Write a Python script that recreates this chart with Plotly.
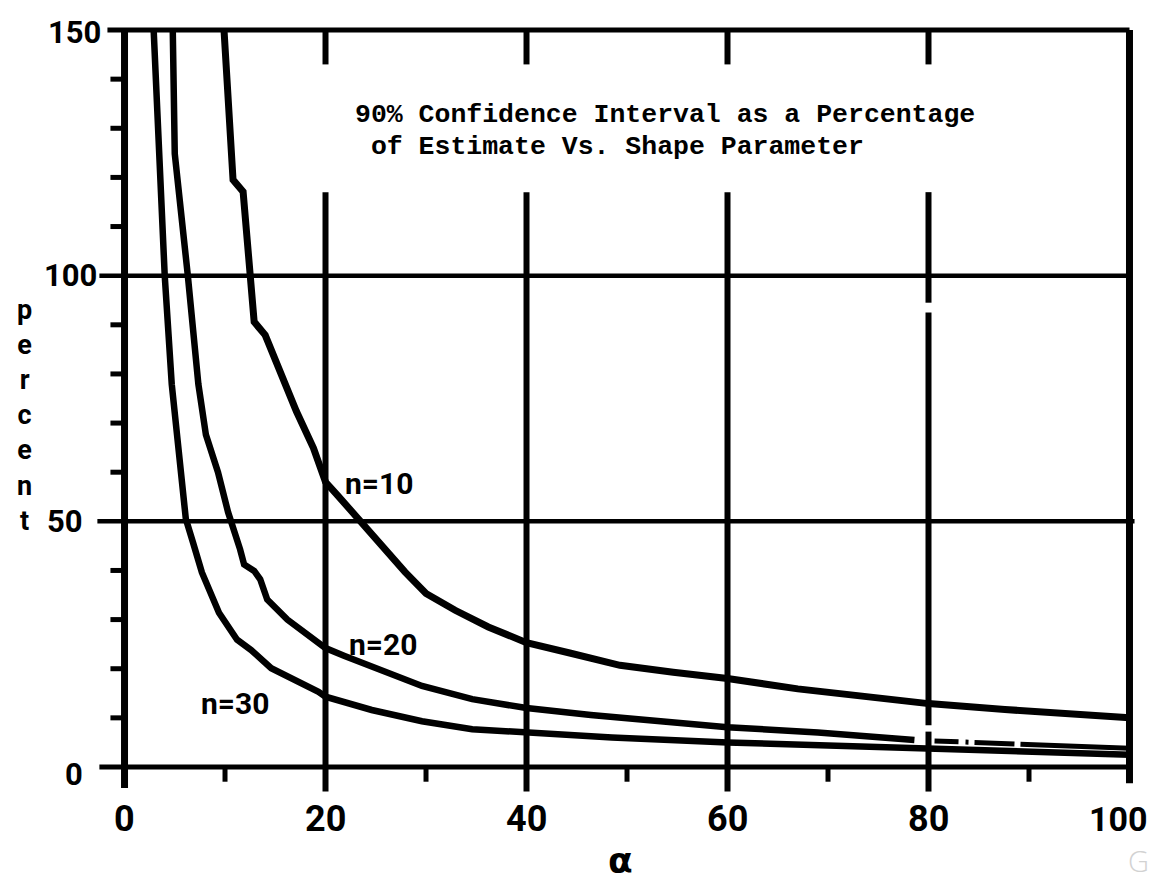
import plotly.graph_objects as go

# 90% confidence interval width (percent of estimate) against shape parameter alpha
alpha_n10 = [9.9, 10.8, 11.8, 12.6, 12.9, 14.0, 16.0, 17.1, 18.8, 20.0, 21.2, 23.2, 25.5,
             27.9, 30.0, 32.9, 36.2, 40.0, 44.3, 49.3, 54.6, 60.0, 67.0, 75.3, 80.0, 87.6, 100.0]
pct_n10 = [150, 119.5, 117.1, 100, 90.6, 87.9, 77.9, 72.4, 64.9, 58.0, 55.3, 50.5, 45.2,
           39.7, 35.3, 31.9, 28.5, 25.3, 23.2, 20.7, 19.3, 18.0, 15.9, 13.9, 12.9, 11.7, 10.0]

alpha_n20 = [4.8, 5.0, 6.3, 7.35, 8.1, 9.3, 10.3, 10.6, 11.5, 11.9, 12.9, 13.5, 14.2, 16.2,
             19.2, 20.0, 21.9, 25.6, 29.6, 34.6, 40.0, 46.4, 52.6, 60.0, 69.0, 78.6,
             80.6, 90.0, 100.0]
pct_n20 = [150, 124.8, 100, 77.9, 67.6, 60.0, 51.9, 50.2, 44.3, 41.2, 39.9, 38.2, 34.1, 30.0,
           25.2, 24.2, 22.6, 19.5, 16.5, 13.8, 12.0, 10.6, 9.5, 8.1, 7.0, 5.5,
           5.3, 4.6, 3.8]

alpha_n30 = [2.9, 4.0, 4.7, 5.4, 6.1, 6.8, 7.7, 9.4, 11.2, 12.6, 14.6, 19.3, 20.0, 24.6,
             29.6, 34.6, 40.0, 48.5, 60.0, 71.0, 80.0, 89.7, 100.0]
pct_n30 = [150, 100, 77.9, 64.2, 50.5, 45.8, 39.6, 31.4, 25.9, 23.8, 20.1, 15.3, 14.3, 11.6,
           9.3, 7.7, 7.0, 6.0, 5.0, 4.3, 3.6, 3.1, 2.5]

curve_names = ["n=10", "n=20", "n=30"]

x_major = [0, 20, 40, 60, 80, 100]
x_minor = [10, 30, 50, 70, 90]
x_tick_text = ["0", "20", "40", "60", "80", "100"]
y_major = [0, 50, 100, 150]
y_minor = [10, 20, 30, 40, 60, 70, 80, 90, 110, 120, 130, 140]
y_tick_text = ["0", "50", "100", "150"]

title_lines = ["90% Confidence Interval as a Percentage",
               "\u00a0of Estimate Vs. Shape Parameter"]
y_title = "percent"

INK = "black"
HAND = "Roboto"

fig = go.Figure()

# ---- frame, grid and ticks ----
shapes = []


def seg(x0, y0, x1, y1, w):
    shapes.append(dict(type="line", xref="x", yref="y", x0=x0, y0=y0, x1=x1, y1=y1,
                       line=dict(color=INK, width=w), layer="below"))


seg(0, -4.3, 0, 150, 7)          # left axis
seg(100, -3.3, 100, 150, 7)      # right axis
seg(-1.7, 150, 100, 150, 5)      # top border
seg(-2.5, 0, 100, 0, 5)          # zero line
seg(-2.5, 100, 100, 100, 4.5)
seg(-2.7, 50, 100.5, 50, 4.5)

for xv in x_major[1:-1]:
    seg(xv, 143, xv, 150, 6)     # short ticks hanging from the top border
    if xv == 80:
        for y0, y1 in [(-5, 7.2), (8.5, 92.5), (94.5, 117)]:
            seg(xv, y0, xv, y1, 6)
    else:
        seg(xv, -5, xv, 117, 6)

for xv in x_minor:
    seg(xv, -3, xv, 0, 5)
for yv in y_minor:
    seg(-1.4, yv, 0, yv, 5)

# ---- curves ----
fig.add_trace(go.Scatter(x=alpha_n10, y=pct_n10, mode="lines",
                         line=dict(color=INK, width=7), hoverinfo="skip"))

solid = [i for i, a in enumerate(alpha_n20) if a <= 79]
tail = [i for i, a in enumerate(alpha_n20) if a > 79]
fig.add_trace(go.Scatter(x=[alpha_n20[i] for i in solid], y=[pct_n20[i] for i in solid],
                         mode="lines", line=dict(color=INK, width=6.5), hoverinfo="skip"))
fig.add_trace(go.Scatter(x=[alpha_n20[i] for i in tail], y=[pct_n20[i] for i in tail],
                         mode="lines",
                         line=dict(color=INK, width=5,
                                   dash="24px,7px,3px,6px,40px,6px,200px"),
                         hoverinfo="skip"))

fig.add_trace(go.Scatter(x=alpha_n30, y=pct_n30, mode="lines",
                         line=dict(color=INK, width=6.5), hoverinfo="skip"))

# ---- text ----
ann = []

x_label_x = [0, 20, 40, 60, 80, 98.9]
x_label_size = [36, 36, 36, 36, 36, 34]
for xv, t, sz in zip(x_label_x, x_tick_text, x_label_size):
    ann.append(dict(x=xv, y=-10.6, text=t, showarrow=False, xanchor="center",
                    yanchor="middle",
                    font=dict(family=HAND, size=sz, color=INK, weight="bold")))

y_label_x = [-5.0, -5.9, -5.4, -5.0]
y_label_dy = [-1.6, 0, 0, -0.6]
for yv, t, lx, dy in zip(y_major, y_tick_text, y_label_x, y_label_dy):
    ann.append(dict(x=lx, y=yv + dy, text=t, showarrow=False, xanchor="center",
                    yanchor="middle",
                    font=dict(family=HAND, size=31, color=INK, weight="bold")))

label_pos = [(25.3, 57.7), (25.7, 25.0), (11.0, 12.9)]
for name, (lx, ly) in zip(curve_names, label_pos):
    ann.append(dict(x=lx, y=ly, text=name, showarrow=False, xanchor="center",
                    yanchor="middle",
                    font=dict(family=HAND, size=30, color=INK, weight="bold")))

# vertical axis title, one letter under the other
ann.append(dict(x=-10.0, y=71.5, text="<br>".join(y_title), showarrow=False,
                xanchor="center", yanchor="middle", align="center",
                font=dict(family=HAND, size=27, color=INK, weight="bold")))

# horizontal axis title
ann.append(dict(x=49.4, y=-19.0, text="α", showarrow=False, xanchor="center",
                yanchor="middle",
                font=dict(family="DejaVu Sans", size=36, color=INK, weight="bold")))

# typed caption
for ty, line in zip([132.7, 126.2], title_lines):
    ann.append(dict(x=22.74, y=ty, text=line, showarrow=False, xanchor="left",
                    yanchor="middle",
                    font=dict(family="Liberation Mono", size=26.5, color=INK, weight="bold")))

# faint library stamp in the corner
ann.append(dict(x=102.1, y=-23.4, text="G", showarrow=False, xanchor="right",
                yanchor="bottom",
                font=dict(family="Open Sans", size=29, color="#d2d2d2", weight=300)))

fig.update_layout(
    width=1151, height=882, autosize=False,
    margin=dict(l=0, r=0, t=0, b=0),
    paper_bgcolor="white", plot_bgcolor="white",
    showlegend=False, hovermode=False,
    xaxis=dict(visible=False, range=[-12.39, 102.14], fixedrange=True),
    yaxis=dict(visible=False, range=[-23.41, 156.11], fixedrange=True),
    shapes=shapes, annotations=ann,
)

fig.write_html("out.html")
